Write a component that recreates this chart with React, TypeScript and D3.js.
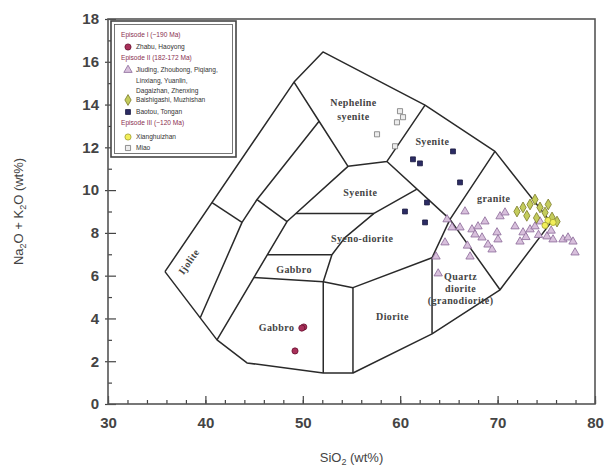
import * as d3 from "d3";
import React, { useEffect, useRef } from "react";

type Pt = [number, number];

// axis ticks
const xTicks = [30, 40, 50, 60, 70, 80];
const xMinorTicks = d3.range(30, 81, 2);
const yTicks = [0, 2, 4, 6, 8, 10, 12, 14, 16, 18];
const yMinorTicks = d3.range(1, 18, 2);

// field boundaries, SiO2 vs Na2O+K2O
const outerBoundary: Pt[] = [[35.85, 6.19], [49.1, 15.05], [52.07, 16.46], [62.55, 13.97], [69.73, 11.81], [75.48, 8.49], [70.25, 5.34], [63.27, 3.28], [55.15, 1.45], [52.1, 1.45], [44.27, 1.92], [41.19, 3.0], [35.85, 6.19]];
const nephelineLine: Pt[] = [[49.1, 15.05], [51.67, 13.22], [54.64, 11.11], [58.64, 11.34], [62.55, 13.97]];
const ijoliteLine: Pt[] = [[51.67, 13.22], [45.3, 9.56], [43.76, 8.49], [39.47, 4.03]];
const linkUpper: Pt[] = [[40.68, 9.42], [43.76, 8.49]];
const linkLower: Pt[] = [[45.3, 9.56], [48.38, 8.53]];
const innerArc: Pt[] = [[54.64, 11.11], [48.38, 8.53], [41.19, 3.0]];
const syenoTop: Pt[] = [[49.3, 8.91], [57.31, 8.91]];
const middleArc: Pt[] = [[52.1, 5.72], [52.99, 6.98], [54.33, 7.78], [57.31, 8.91], [61.72, 10.05]];
const syeniteBase: Pt[] = [[58.64, 11.34], [65.11, 8.63], [70.25, 5.34]];
const graniteLeft: Pt[] = [[69.73, 11.81], [65.11, 8.63], [63.27, 6.84], [63.27, 3.28]];
const gabbroTop: Pt[] = [[46.37, 6.98], [52.99, 6.98]];
const dioriteTop: Pt[] = [[44.97, 5.91], [52.1, 5.72], [55.15, 5.44], [63.27, 6.84]];
const gabbroRight: Pt[] = [[52.1, 5.72], [52.1, 1.45]];
const dioriteLeft: Pt[] = [[55.15, 5.44], [55.15, 1.45]];
const fieldLines = [outerBoundary, nephelineLine, ijoliteLine, linkUpper, linkLower, innerArc, syenoTop, middleArc, syeniteBase, graniteLeft, gabbroTop, dioriteTop, gabbroRight, dioriteLeft];

// field names: [text, SiO2, Na2O+K2O, rotation]
const fieldNames: [string, number, number, number][] = [
    ["Nepheline", 55.2, 14.1, 0],
    ["syenite", 55.2, 13.45, 0],
    ["Syenite", 63.3, 12.25, 0],
    ["Syenite", 55.9, 9.9, 0],
    ["Syeno-diorite", 56.1, 7.74, 0],
    ["Gabbro", 49.1, 6.28, 0],
    ["Gabbro", 47.3, 3.58, 0],
    ["Ijolite", 38.3, 6.66, -55],
    ["granite", 69.6, 9.6, 0],
    ["Diorite", 59.2, 4.1, 0],
    ["Quartz", 66.2, 5.95, 0],
    ["diorite", 66.2, 5.4, 0],
    ["(granodiorite)", 66.2, 4.82, 0],
];

// samples
const episode1: Pt[] = [[50.1, 3.6], [49.9, 3.55], [49.2, 2.48]];
const episode2Tri: Pt[] = [[64.81, 8.63], [66.65, 9.0], [64.6, 7.55], [63.68, 6.89], [65.32, 8.25], [66.14, 8.25], [67.37, 8.16], [67.99, 8.3], [67.68, 7.92], [68.4, 7.78], [69.01, 7.45], [69.43, 7.22], [69.94, 8.02], [70.04, 7.69], [70.25, 8.77], [70.76, 8.95], [71.79, 8.3], [72.3, 7.59], [72.61, 8.02], [73.33, 8.16], [73.84, 8.3], [74.35, 8.53], [75.07, 7.83], [75.69, 7.69], [76.71, 7.69], [77.23, 7.78], [77.74, 7.59], [77.95, 7.08], [67.17, 6.89], [68.7, 8.53], [72.9, 7.8], [74.2, 7.9], [75.5, 8.1], [63.9, 6.1], [66.9, 7.4]];
const episode2Dia: Pt[] = [[71.99, 9.0], [72.61, 9.19], [73.33, 9.33], [73.84, 9.56], [74.35, 9.19], [74.87, 8.95], [75.59, 8.72], [76.1, 8.53], [73.0, 8.8], [74.0, 8.7], [75.2, 9.33]];
const episode2Sq: Pt[] = [[61.31, 11.44], [62.03, 11.25], [65.42, 11.81], [66.14, 10.36], [62.75, 9.42], [60.49, 9.0], [62.55, 8.49]];
const episode3Circ: Pt[] = [[75.17, 8.58], [75.69, 8.49], [74.87, 8.35]];
const episode3Sq: Pt[] = [[59.98, 13.69], [60.29, 13.41], [59.67, 13.17], [57.62, 12.61], [59.47, 12.05]];

// legend rows
const legendRows: { kind: string; text: string }[] = [
    { kind: "head", text: "Episode I (~190 Ma)" },
    { kind: "e1", text: "Zhabu, Haoyong" },
    { kind: "head", text: "Episode II (182-172 Ma)" },
    { kind: "tri", text: "Jiuding, Zhoubong, Piqiang," },
    { kind: "", text: "Linxiang, Yuanlin," },
    { kind: "", text: "Dagaizhan, Zhenxing" },
    { kind: "dia", text: "Baishigashi, Muzhishan" },
    { kind: "sq", text: "Baotou, Tongan" },
    { kind: "head", text: "Episode III (~120 Ma)" },
    { kind: "circ", text: "Xianghuizhan" },
    { kind: "gsq", text: "Miao" },
];

const styles: Record<string, { sym: d3.SymbolType; size: number; fill: string; stroke: string }> = {
    e1: { sym: d3.symbolCircle, size: 30, fill: "#a8305a", stroke: "#6a1030" },
    tri: { sym: d3.symbolTriangle, size: 30, fill: "#d8c0dc", stroke: "#8a6898" },
    dia: { sym: d3.symbolDiamond, size: 34, fill: "#c4cc5c", stroke: "#7a7a28" },
    sq: { sym: d3.symbolSquare, size: 24, fill: "#2c2c64", stroke: "#1a1a40" },
    circ: { sym: d3.symbolCircle, size: 30, fill: "#f2ee5a", stroke: "#a0a030" },
    gsq: { sym: d3.symbolSquare, size: 26, fill: "#ececec", stroke: "#777" },
};

const margins = { left: 108, right: 20, top: 19, bottom: 65 };
const width = 615;
const height = 469;

export default function App() {
    const svgRef = useRef<SVGSVGElement>(null);

    useEffect(() => {
        const svg = d3.select(svgRef.current);
        svg.selectAll("*").remove();

        const x = d3.scaleLinear().domain([30, 80]).range([margins.left, width - margins.right]);
        const y = d3.scaleLinear().domain([0, 18]).range([height - margins.bottom, margins.top]);
        const axisColor = "#444";

        // x axis
        const xMinor = svg.append("g").attr("transform", `translate(0, ${y(0)})`)
            .call(d3.axisBottom(x).tickValues(xMinorTicks).tickSize(-4).tickFormat(() => ""));
        const xMajor = svg.append("g").attr("transform", `translate(0, ${y(0)})`)
            .call(d3.axisBottom(x).tickValues(xTicks).tickSize(-8).tickPadding(13).tickFormat(d3.format("d")));
        // y axis
        const yMinor = svg.append("g").attr("transform", `translate(${x(30)}, 0)`)
            .call(d3.axisLeft(y).tickValues(yMinorTicks).tickSize(-4).tickFormat(() => ""));
        const yOut = svg.append("g").attr("transform", `translate(${x(30)}, 0)`)
            .call(d3.axisLeft(y).tickValues(yTicks).tickSize(3).tickFormat(() => ""));
        const yMajor = svg.append("g").attr("transform", `translate(${x(30)}, 0)`)
            .call(d3.axisLeft(y).tickValues(yTicks).tickSize(-8).tickPadding(9).tickFormat(d3.format("d")));
        [xMinor, xMajor, yMinor, yOut, yMajor].forEach(g => {
            g.select(".domain").remove();
            g.selectAll("line").attr("stroke", axisColor).attr("stroke-width", 1.2);
            g.selectAll("text").attr("fill", "#444").attr("font-size", 15).attr("font-weight", "bold")
                .attr("font-family", "Liberation Sans, Arial, sans-serif");
        });

        // frame
        svg.append("rect")
            .attr("x", x(30)).attr("y", y(18))
            .attr("width", x(80) - x(30)).attr("height", y(0) - y(18))
            .attr("fill", "none").attr("stroke", "#555").attr("stroke-width", 1.6);

        // field boundaries
        const line = d3.line<Pt>().x(d => x(d[0])).y(d => y(d[1]));
        svg.append("g").selectAll("path").data(fieldLines).join("path")
            .attr("d", d => line(d))
            .attr("fill", "none").attr("stroke", "#2a2a2a").attr("stroke-width", 1.5)
            .attr("stroke-linejoin", "round");

        // field names
        svg.append("g").selectAll("text").data(fieldNames).join("text")
            .attr("transform", d => `translate(${x(d[1])}, ${y(d[2])}) rotate(${d[3]})`)
            .attr("text-anchor", "middle").attr("dy", "0.35em")
            .attr("font-family", "Liberation Serif, Times New Roman, serif")
            .attr("font-weight", "bold").attr("font-size", 10).attr("letter-spacing", 0.4)
            .attr("fill", "#444")
            .text(d => d[0]);

        // samples
        const groups: [Pt[], string][] = [[episode2Tri, "tri"], [episode3Sq, "gsq"], [episode2Sq, "sq"], [episode2Dia, "dia"], [episode3Circ, "circ"], [episode1, "e1"]];
        groups.forEach(([pts, k]) => {
            const s = styles[k];
            svg.append("g").selectAll("path").data(pts).join("path")
                .attr("transform", d => `translate(${x(d[0])}, ${y(d[1])})`)
                .attr("d", d3.symbol().type(s.sym).size(s.size)())
                .attr("fill", s.fill).attr("stroke", s.stroke).attr("stroke-width", 0.8);
        });

        // legend
        const lg = svg.append("g");
        lg.append("rect").attr("x", 111).attr("y", 21).attr("width", 125).attr("height", 136)
            .attr("fill", "white").attr("stroke", "#444").attr("stroke-width", 1.6);
        lg.append("rect").attr("x", 114.5).attr("y", 24.5).attr("width", 118).attr("height", 129)
            .attr("fill", "none").attr("stroke", "#555").attr("stroke-width", 0.8);
        const rowY = [35, 47, 58, 70, 80.5, 90.5, 100, 112, 123, 137, 148];
        legendRows.forEach((r, i) => {
            const yy = rowY[i];
            const isHead = r.kind === "head";
            lg.append("text").attr("x", isHead ? 121 : 136).attr("y", yy).attr("dy", "0.35em")
                .attr("font-family", "Liberation Sans, Arial, sans-serif")
                .attr("font-size", 6.6)
                .attr("fill", isHead ? "#8a3050" : "#333")
                .text(r.text);
            if (styles[r.kind]) {
                const s = styles[r.kind];
                lg.append("path").attr("transform", `translate(128, ${yy})`)
                    .attr("d", d3.symbol().type(s.sym).size(s.size)())
                    .attr("fill", s.fill).attr("stroke", s.stroke).attr("stroke-width", 0.8);
            }
        });

        // axis titles
        const xt = svg.append("text").attr("x", (x(30) + x(80)) / 2).attr("y", 462)
            .attr("text-anchor", "middle").attr("font-size", 13).attr("fill", "#444")
            .attr("font-family", "Liberation Sans, Arial, sans-serif");
        xt.append("tspan").text("SiO");
        xt.append("tspan").attr("font-size", 9).attr("dy", 3).text("2");
        xt.append("tspan").attr("dy", -3).text(" (wt%)");

        const yt = svg.append("text").attr("transform", `translate(23, ${y(9)}) rotate(-90)`)
            .attr("text-anchor", "middle").attr("font-size", 13).attr("fill", "#444")
            .attr("font-family", "Liberation Sans, Arial, sans-serif");
        yt.append("tspan").text("Na");
        yt.append("tspan").attr("font-size", 9).attr("dy", 3).text("2");
        yt.append("tspan").attr("dy", -3).text("O + K");
        yt.append("tspan").attr("font-size", 9).attr("dy", 3).text("2");
        yt.append("tspan").attr("dy", -3).text("O (wt%)");
    }, []);

    return (
        <svg ref={svgRef} width={width} height={height}
            style={{ position: "absolute", left: 0, top: 0, background: "white" }} />
    );
}
